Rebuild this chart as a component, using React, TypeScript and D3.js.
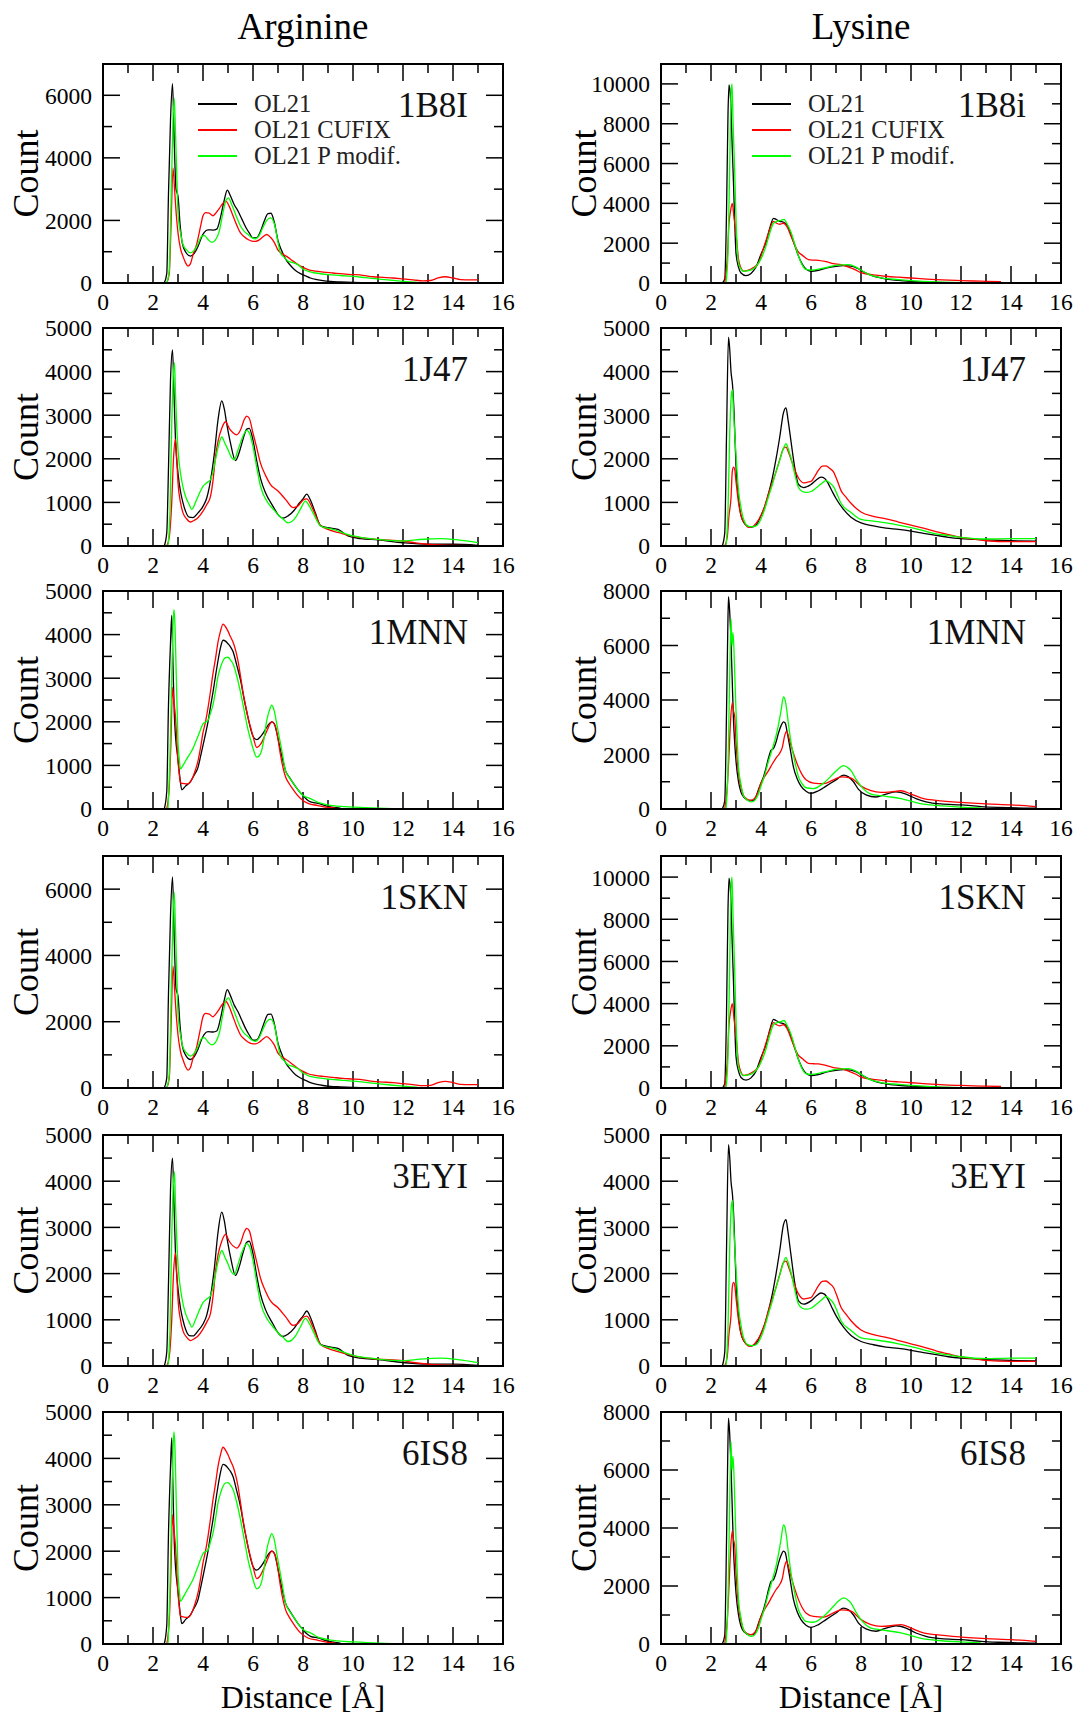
import React from 'react';
import * as d3 from 'd3';

type Pt = [number, number];

// ---- Arginine, 1B8I / 1SKN ----
const argA_ol21: Pt[] = [[2.45,0],[2.55,300],[2.62,2880],[2.7,5200],[2.78,6370],[2.85,4500],[2.92,3000],[3.0,2770],[3.08,1900],[3.17,1280],[3.3,1000],[3.5,860],[3.65,950],[3.8,1170],[3.95,1480],[4.05,1620],[4.2,1700],[4.4,1690],[4.55,1720],[4.7,2100],[4.85,2650],[4.97,2970],[5.1,2780],[5.25,2500],[5.4,2300],[5.55,2050],[5.7,1800],[5.85,1600],[6.0,1440],[6.15,1450],[6.3,1650],[6.45,1980],[6.6,2220],[6.72,2230],[6.85,1950],[7.0,1350],[7.15,1030],[7.3,770],[7.5,560],[7.7,400],[7.9,300],[8.1,230],[8.3,160],[8.55,110],[8.8,75],[9.1,50],[9.5,35],[10.0,20],[10.7,10],[11.4,0]];
const argA_cufix: Pt[] = [[2.55,0],[2.65,300],[2.72,1800],[2.8,3680],[2.87,2900],[2.93,2200],[3.0,1600],[3.1,1100],[3.2,850],[3.3,650],[3.4,540],[3.5,620],[3.6,900],[3.75,1250],[3.9,1800],[4.0,2150],[4.1,2250],[4.25,2230],[4.4,2150],[4.5,2220],[4.65,2380],[4.8,2550],[4.92,2610],[5.05,2450],[5.2,2150],[5.35,1850],[5.5,1600],[5.65,1480],[5.8,1390],[5.95,1340],[6.1,1330],[6.25,1380],[6.4,1480],[6.55,1550],[6.7,1460],[6.85,1300],[7.0,1050],[7.2,920],[7.4,820],[7.6,700],[7.8,590],[8.0,500],[8.2,430],[8.5,380],[8.8,350],[9.2,320],[9.6,290],[10.0,270],[10.4,245],[10.8,200],[11.2,180],[11.6,160],[12.0,130],[12.4,100],[12.8,70],[13.1,80],[13.4,160],[13.7,200],[14.0,160],[14.3,110],[14.7,100],[15.0,100]];
const argA_pmod: Pt[] = [[2.55,0],[2.65,400],[2.72,2500],[2.8,5200],[2.85,5900],[2.9,4800],[2.95,3500],[3.0,2240],[3.1,1600],[3.2,1230],[3.35,1050],[3.5,960],[3.65,1050],[3.8,1250],[3.95,1500],[4.05,1520],[4.2,1390],[4.35,1300],[4.5,1380],[4.65,1650],[4.8,2250],[4.92,2650],[5.02,2720],[5.15,2500],[5.3,2200],[5.5,1820],[5.65,1650],[5.8,1550],[5.95,1450],[6.1,1410],[6.25,1520],[6.4,1780],[6.55,2000],[6.7,2080],[6.85,1900],[7.0,1300],[7.1,960],[7.25,820],[7.4,700],[7.6,650],[7.8,580],[8.0,450],[8.25,360],[8.5,320],[9.0,270],[9.5,240],[10.0,210],[10.5,170],[11.0,130],[11.5,90],[12.0,55],[12.6,20]];

// ---- Arginine, 1J47 / 3EYI ----
const argB_ol21: Pt[] = [[2.45,0],[2.55,300],[2.62,1800],[2.7,3800],[2.78,4500],[2.84,3500],[2.9,2430],[3.0,1670],[3.1,1250],[3.2,990],[3.3,800],[3.45,660],[3.6,650],[3.8,760],[4.0,910],[4.15,1100],[4.3,1500],[4.45,2100],[4.6,2890],[4.75,3330],[4.85,3150],[4.95,2800],[5.1,2360],[5.3,1960],[5.45,2150],[5.6,2450],[5.75,2680],[5.85,2700],[6.0,2430],[6.15,1950],[6.3,1550],[6.5,1220],[6.8,910],[7.0,720],[7.2,640],[7.4,690],[7.65,820],[7.85,980],[8.0,1080],[8.15,1190],[8.3,1050],[8.5,750],[8.7,470],[9.0,420],[9.4,380],[9.8,230],[10.3,170],[11.0,140],[12.0,75],[13.0,40],[14.0,40],[15.0,15]];
const argB_cufix: Pt[] = [[2.55,0],[2.65,200],[2.75,1000],[2.82,2000],[2.9,2450],[2.95,2000],[3.0,1450],[3.1,1000],[3.2,760],[3.35,620],[3.5,550],[3.65,590],[3.8,650],[4.0,800],[4.15,950],[4.3,1140],[4.4,1500],[4.5,2050],[4.6,2400],[4.75,2700],[4.9,2850],[5.05,2700],[5.2,2600],[5.35,2550],[5.5,2660],[5.65,2900],[5.75,2980],[5.85,2930],[6.0,2590],[6.15,2250],[6.3,1900],[6.5,1620],[6.7,1410],[7.0,1260],[7.3,1070],[7.6,880],[7.8,920],[8.0,1050],[8.15,1080],[8.4,840],[8.7,470],[9.0,380],[9.4,310],[9.8,250],[10.3,190],[11.0,150],[12.0,115],[12.5,70],[13.0,40],[14.0,15],[15.0,10]];
const argB_pmod: Pt[] = [[2.6,0],[2.68,800],[2.75,2800],[2.82,4000],[2.86,4200],[2.9,3500],[2.95,2740],[3.0,2200],[3.1,1670],[3.2,1350],[3.3,1140],[3.45,950],[3.55,840],[3.7,1000],[3.85,1200],[4.0,1370],[4.15,1450],[4.3,1520],[4.4,1700],[4.5,1980],[4.62,2300],[4.75,2500],[4.88,2350],[5.0,2210],[5.12,2050],[5.25,1980],[5.4,2200],[5.55,2450],[5.75,2650],[5.85,2600],[6.0,2280],[6.15,1800],[6.3,1370],[6.6,990],[6.8,850],[7.0,720],[7.2,620],[7.4,530],[7.55,560],[7.7,650],[7.9,850],[8.1,1030],[8.25,920],[8.4,760],[8.7,460],[9.2,380],[10.0,230],[11.0,150],[12.0,115],[12.5,140],[13.0,160],[13.5,170],[14.2,140],[15.0,75]];

// ---- Arginine, 1MNN / 6IS8 ----
const argC_ol21: Pt[] = [[2.45,0],[2.55,400],[2.62,2400],[2.7,3800],[2.75,4440],[2.8,3300],[2.85,2200],[2.9,1670],[3.0,1135],[3.08,700],[3.15,440],[3.3,525],[3.5,630],[3.65,780],[3.8,955],[3.9,1200],[4.0,1460],[4.1,1720],[4.2,2000],[4.3,2350],[4.4,2680],[4.5,3050],[4.6,3400],[4.7,3700],[4.8,3870],[4.9,3850],[5.0,3790],[5.1,3720],[5.2,3610],[5.35,3300],[5.5,2960],[5.65,2500],[5.8,2100],[5.9,1850],[6.0,1670],[6.15,1590],[6.3,1660],[6.45,1780],[6.6,1920],[6.75,2000],[6.85,1960],[6.95,1750],[7.1,1350],[7.2,1100],[7.3,880],[7.45,730],[7.6,600],[7.8,440],[8.0,310],[8.15,220],[8.3,165],[8.6,130],[9.0,60],[9.5,20]];
const argC_cufix: Pt[] = [[2.55,0],[2.65,500],[2.72,1600],[2.78,2790],[2.83,2500],[2.9,2100],[2.95,1600],[3.0,1100],[3.05,800],[3.1,600],[3.25,580],[3.4,575],[3.6,740],[3.7,900],[3.8,1100],[3.9,1400],[4.0,1750],[4.1,2000],[4.2,2320],[4.3,2700],[4.4,3110],[4.5,3450],[4.6,3830],[4.7,4080],[4.8,4240],[4.9,4180],[5.0,4080],[5.1,3950],[5.2,3830],[5.3,3650],[5.4,3400],[5.5,3050],[5.6,2680],[5.7,2380],[5.8,2100],[5.9,1880],[6.0,1670],[6.15,1410],[6.3,1480],[6.45,1650],[6.6,1850],[6.75,2000],[6.9,1890],[7.0,1600],[7.1,1240],[7.2,950],[7.3,740],[7.45,580],[7.6,450],[7.9,240],[8.2,130],[8.6,80],[9.0,35],[9.3,20]];
const argC_pmod: Pt[] = [[2.6,0],[2.68,1200],[2.75,3000],[2.8,4200],[2.84,4570],[2.88,4200],[2.92,3300],[2.96,2400],[3.0,1530],[3.05,1150],[3.1,920],[3.2,1000],[3.3,1100],[3.45,1240],[3.6,1390],[3.7,1530],[3.8,1670],[3.9,1820],[4.0,1950],[4.2,2030],[4.3,2200],[4.4,2390],[4.5,2700],[4.6,3040],[4.7,3250],[4.8,3400],[4.9,3470],[5.0,3480],[5.1,3420],[5.2,3330],[5.35,3050],[5.5,2680],[5.65,2250],[5.8,1820],[5.9,1600],[6.0,1390],[6.15,1190],[6.25,1220],[6.35,1350],[6.45,1650],[6.55,2030],[6.65,2250],[6.75,2380],[6.85,2250],[6.95,1950],[7.05,1650],[7.15,1350],[7.3,880],[7.45,720],[7.6,600],[7.8,440],[8.0,310],[8.3,240],[8.6,150],[9.0,95],[9.5,60],[10.0,45],[11.0,20],[11.6,10]];

// ---- Lysine, 1B8i / 1SKN ----
const lysA_ol21: Pt[] = [[2.45,0],[2.55,200],[2.62,3500],[2.68,8500],[2.72,9950],[2.78,9300],[2.85,6800],[2.9,5000],[2.95,3000],[3.0,1500],[3.1,800],[3.2,500],[3.4,370],[3.6,480],[3.8,800],[4.0,1450],[4.2,2050],[4.35,2750],[4.5,3250],[4.6,3200],[4.75,3100],[4.9,3050],[5.05,2900],[5.2,2450],[5.35,1900],[5.5,1350],[5.65,950],[5.8,700],[6.0,590],[6.3,640],[6.6,750],[7.0,840],[7.3,870],[7.6,850],[7.85,740],[8.1,560],[8.5,340],[9.0,200],[9.5,130],[10.0,85],[11.0,35],[12.0,10]];
const lysA_cufix: Pt[] = [[2.55,0],[2.65,1200],[2.72,3000],[2.78,3600],[2.85,4000],[2.92,3300],[3.0,2500],[3.1,1200],[3.2,750],[3.3,600],[3.5,650],[3.7,780],[3.9,1000],[4.1,1750],[4.3,2500],[4.5,3100],[4.62,3000],[4.75,2950],[4.9,3000],[5.05,2800],[5.2,2350],[5.35,1900],[5.5,1550],[5.65,1400],[5.9,1170],[6.1,1150],[6.3,1140],[6.6,1070],[6.9,970],[7.2,920],[7.5,800],[7.8,650],[8.0,520],[8.3,440],[8.6,400],[9.0,340],[9.5,290],[10.0,250],[10.5,210],[11.0,170],[11.5,140],[12.0,120],[12.5,100],[13.0,85],[13.6,70]];
const lysA_pmod: Pt[] = [[2.6,0],[2.68,1500],[2.75,6000],[2.8,9500],[2.84,10000],[2.88,8200],[2.95,5500],[3.02,2500],[3.1,1000],[3.2,700],[3.3,590],[3.5,620],[3.7,720],[3.9,1000],[4.05,1350],[4.2,1850],[4.35,2500],[4.5,3000],[4.65,3100],[4.8,3150],[4.92,3200],[5.05,2950],[5.2,2550],[5.35,1950],[5.5,1350],[5.65,900],[5.8,680],[6.0,640],[6.5,750],[7.0,880],[7.5,920],[7.8,800],[8.0,650],[8.3,430],[8.8,260],[9.5,170],[10.0,120],[11.0,50],[12.0,20]];

// ---- Lysine, 1J47 / 3EYI ----
const lysB_ol21: Pt[] = [[2.45,0],[2.55,300],[2.62,2500],[2.7,4790],[2.75,4500],[2.8,4000],[2.86,3700],[2.92,3100],[3.0,1840],[3.1,1100],[3.2,700],[3.4,480],[3.6,430],[3.8,480],[4.0,700],[4.15,900],[4.3,1200],[4.45,1550],[4.6,1990],[4.75,2500],[4.9,3060],[5.0,3170],[5.08,2900],[5.2,2400],[5.35,1800],[5.5,1410],[5.7,1340],[6.0,1410],[6.2,1510],[6.4,1580],[6.55,1550],[6.7,1420],[6.85,1250],[7.0,1090],[7.3,840],[7.6,660],[8.0,530],[8.5,460],[9.0,410],[9.5,380],[10.0,340],[10.5,290],[11.0,245],[11.5,200],[12.0,170],[13.0,140],[14.0,120],[15.0,110]];
const lysB_cufix: Pt[] = [[2.55,0],[2.65,200],[2.72,700],[2.8,1100],[2.85,1700],[2.9,1810],[2.95,1750],[3.0,1480],[3.1,1000],[3.2,700],[3.35,520],[3.5,430],[3.65,440],[3.8,520],[4.0,700],[4.15,920],[4.3,1200],[4.45,1450],[4.6,1700],[4.75,1980],[4.9,2240],[5.0,2270],[5.1,2150],[5.2,1990],[5.35,1750],[5.5,1560],[5.7,1450],[5.9,1470],[6.0,1480],[6.15,1600],[6.3,1740],[6.45,1830],[6.6,1840],[6.75,1780],[6.9,1700],[7.05,1500],[7.2,1270],[7.4,1120],[7.6,980],[8.0,780],[8.5,680],[9.0,620],[9.5,550],[10.0,480],[10.5,410],[11.0,330],[11.5,260],[12.0,195],[12.5,160],[13.0,120],[14.0,100],[15.0,100]];
const lysB_pmod: Pt[] = [[2.6,0],[2.68,800],[2.75,2600],[2.82,3500],[2.86,3580],[2.9,3100],[2.95,2560],[3.0,2100],[3.1,1270],[3.2,880],[3.3,620],[3.5,450],[3.65,440],[3.8,460],[4.0,620],[4.15,850],[4.3,1130],[4.45,1400],[4.6,1700],[4.75,1970],[4.9,2240],[5.0,2350],[5.08,2250],[5.2,2020],[5.35,1650],[5.5,1340],[5.65,1250],[5.8,1230],[6.0,1250],[6.2,1330],[6.4,1420],[6.6,1500],[6.75,1450],[6.9,1360],[7.05,1180],[7.2,980],[7.6,770],[8.0,610],[8.5,570],[9.0,530],[9.5,480],[10.0,420],[10.5,350],[11.0,280],[11.5,240],[12.0,200],[13.0,160],[14.0,170],[15.0,170]];

// ---- Lysine, 1MNN / 6IS8 ----
const lysC_ol21: Pt[] = [[2.45,0],[2.55,300],[2.62,3500],[2.67,6500],[2.7,7790],[2.75,7200],[2.8,6130],[2.85,4700],[2.9,3250],[2.95,2400],[3.0,1760],[3.1,1000],[3.2,610],[3.35,400],[3.5,320],[3.7,320],[3.8,450],[3.9,720],[4.0,950],[4.1,1180],[4.2,1500],[4.3,1870],[4.4,2150],[4.5,2220],[4.6,2450],[4.7,2790],[4.8,3050],[4.9,3200],[4.97,3150],[5.05,2800],[5.15,2300],[5.3,1530],[5.45,1100],[5.6,840],[5.8,650],[6.0,575],[6.3,670],[6.6,840],[7.0,1070],[7.3,1240],[7.5,1180],[7.7,1000],[7.9,720],[8.2,520],[8.6,440],[9.0,550],[9.4,630],[9.8,550],[10.2,380],[10.6,265],[11.2,185],[12.0,150],[12.8,90],[13.5,60],[14.5,35],[15.0,30]];
const lysC_cufix: Pt[] = [[2.55,0],[2.65,800],[2.72,2000],[2.78,3200],[2.85,3890],[2.9,3600],[2.95,3370],[3.0,2450],[3.05,1800],[3.1,1300],[3.2,800],[3.3,490],[3.45,360],[3.6,320],[3.75,400],[3.85,550],[4.0,950],[4.15,1200],[4.3,1410],[4.45,1650],[4.6,1870],[4.75,2050],[4.85,2250],[4.95,2700],[5.02,2850],[5.12,2600],[5.2,2330],[5.35,1900],[5.5,1530],[5.65,1250],[5.8,1070],[6.1,950],[6.5,930],[6.9,1070],[7.2,1180],[7.6,1130],[8.0,840],[8.4,670],[8.8,610],[9.2,630],[9.6,670],[10.0,550],[10.5,380],[11.0,320],[12.0,240],[13.0,185],[14.0,150],[15.0,90]];
const lysC_pmod: Pt[] = [[2.6,0],[2.68,1500],[2.75,5000],[2.8,6990],[2.84,6000],[2.88,6470],[2.92,5800],[2.96,4700],[3.0,3600],[3.05,2500],[3.1,1530],[3.2,900],[3.3,490],[3.45,330],[3.6,265],[3.7,280],[3.8,380],[3.9,560],[4.0,840],[4.15,1250],[4.3,1760],[4.45,2200],[4.6,2680],[4.7,3100],[4.8,3600],[4.9,4110],[4.95,4050],[5.0,3830],[5.1,3100],[5.2,2450],[5.35,1750],[5.5,1180],[5.65,920],[5.8,780],[6.1,750],[6.5,950],[6.9,1300],[7.1,1480],[7.3,1590],[7.5,1500],[7.6,1410],[7.8,1100],[8.0,840],[8.4,550],[8.8,490],[9.2,440],[9.6,380],[10.0,290],[10.5,175],[11.0,130],[12.0,70],[12.8,40]];

const columnTitles = ['Arginine', 'Lysine'];
const labelsArg = ['1B8I', '1J47', '1MNN', '1SKN', '3EYI', '6IS8'];
const labelsLys = ['1B8i', '1J47', '1MNN', '1SKN', '3EYI', '6IS8'];
const yMaxArg = [7000, 5000, 5000, 7000, 5000, 5000];
const yMaxLys = [11000, 5000, 8000, 11000, 5000, 8000];
const yStepArg = [2000, 1000, 1000, 2000, 1000, 1000];
const yStepLys = [2000, 1000, 2000, 2000, 1000, 2000];
const seriesNames = ['OL21', 'OL21 CUFIX', 'OL21 P modif.'];
const seriesColors = ['#000000', '#ff0000', '#00ff00'];
const xAxisLabel = 'Distance [\u00c5]';

const argA = [argA_ol21, argA_cufix, argA_pmod];
const argB = [argB_ol21, argB_cufix, argB_pmod];
const argC = [argC_ol21, argC_cufix, argC_pmod];
const lysA = [lysA_ol21, lysA_cufix, lysA_pmod];
const lysB = [lysB_ol21, lysB_cufix, lysB_pmod];
const lysC = [lysC_ol21, lysC_cufix, lysC_pmod];
const argRows = [argA, argB, argC, argA, argB, argC];
const lysRows = [lysA, lysB, lysC, lysA, lysB, lysC];

// layout (px)
const W = 1077;
const H = 1717;
const COL_LEFT = [103, 661];
const PANEL_W = 400;
const ROW_TOP = [64, 328, 591, 856, 1135, 1412];
const ROW_BOTTOM = [283, 546, 809, 1088, 1366, 1644];
const FONT = "'Liberation Serif', 'Times New Roman', serif";

const Panel = ({ left, top, bottom, yMax, yStep, rows, label, legendX, countX, isBottom }) => {
  const x = d3.scaleLinear().domain([0, 16]).range([left, left + PANEL_W]);
  const y = d3.scaleLinear().domain([0, yMax]).range([bottom, top]);
  const line = d3.line<Pt>().x(d => x(d[0])).y(d => y(d[1])).curve(d3.curveMonotoneX);

  const xTicks = d3.range(0, 17, 1);
  const yTicks = d3.range(0, yMax + 1, yStep / 2);
  const big = 17;
  const small = 9;

  return (
    <g>
      {/* ticks, inward on all four sides */}
      {xTicks.map(v => {
        const len = v % 2 === 0 ? big : small;
        return (
          <g key={`xt${v}`}>
            <line x1={x(v)} x2={x(v)} y1={bottom} y2={bottom - len} stroke="#000" strokeWidth={1.5} />
            <line x1={x(v)} x2={x(v)} y1={top} y2={top + len} stroke="#000" strokeWidth={1.5} />
            {v % 2 === 0 && (
              <text x={x(v)} y={bottom + 27} textAnchor="middle" fontSize={23.5} fontFamily={FONT} fill="#000">
                {v}
              </text>
            )}
          </g>
        );
      })}
      {yTicks.map(v => {
        const major = v % yStep === 0;
        const len = major ? big : small;
        return (
          <g key={`yt${v}`}>
            <line x1={left} x2={left + len} y1={y(v)} y2={y(v)} stroke="#000" strokeWidth={1.5} />
            <line x1={left + PANEL_W} x2={left + PANEL_W - len} y1={y(v)} y2={y(v)} stroke="#000" strokeWidth={1.5} />
            {major && (
              <text x={left - 11} y={y(v)} dy="0.36em" textAnchor="end" fontSize={23.5} fontFamily={FONT} fill="#000">
                {v}
              </text>
            )}
          </g>
        );
      })}

      {/* data */}
      {rows.map((pts, i) => (
        <path key={`s${i}`} d={line(pts)} fill="none" stroke={seriesColors[i]} strokeWidth={1.3} />
      ))}

      {/* frame */}
      <rect x={left} y={top} width={PANEL_W} height={bottom - top} fill="none" stroke="#000" strokeWidth={2} />

      <text x={left + PANEL_W - 35} y={top + 53} textAnchor="end" fontSize={35} fontFamily={FONT} fill="#111">
        {label}
      </text>

      <text transform={`translate(${countX},${(top + bottom) / 2}) rotate(-90)`} textAnchor="middle" fontSize={36} fontFamily={FONT} fill="#000">
        Count
      </text>

      {legendX !== null && seriesNames.map((name, i) => (
        <g key={`lg${i}`}>
          <line x1={legendX} x2={legendX + 39} y1={top + 40 + i * 26} y2={top + 40 + i * 26} stroke={seriesColors[i]} strokeWidth={2.2} />
          <text x={legendX + 56} y={top + 48 + i * 26} fontSize={24.5} fontFamily={FONT} fill="#222">
            {name}
          </text>
        </g>
      ))}

      {isBottom && (
        <text x={left + PANEL_W / 2} y={H - 9} textAnchor="middle" fontSize={32} fontFamily={FONT} fill="#000">
          {xAxisLabel}
        </text>
      )}
    </g>
  );
};

export default function App() {
  const columns = [
    { labels: labelsArg, yMax: yMaxArg, yStep: yStepArg, data: argRows, legendX: 198, countX: 38 },
    { labels: labelsLys, yMax: yMaxLys, yStep: yStepLys, data: lysRows, legendX: 752, countX: 596 },
  ];
  return (
    <div style={{ position: 'absolute', left: 0, top: 0, width: W, height: H, background: '#fff' }}>
      <svg width={W} height={H} style={{ display: 'block' }}>
        <rect width={W} height={H} fill="#fff" />
        {columns.map((col, c) => (
          <g key={`c${c}`}>
            <text x={COL_LEFT[c] + PANEL_W / 2} y={39} textAnchor="middle" fontSize={37} fontFamily={FONT} fill="#000">
              {columnTitles[c]}
            </text>
            {ROW_TOP.map((t, r) => (
              <Panel
                key={`p${c}-${r}`}
                left={COL_LEFT[c]}
                top={t}
                bottom={ROW_BOTTOM[r]}
                yMax={col.yMax[r]}
                yStep={col.yStep[r]}
                rows={col.data[r]}
                label={col.labels[r]}
                legendX={r === 0 ? col.legendX : null}
                countX={col.countX}
                isBottom={r === ROW_TOP.length - 1}
              />
            ))}
          </g>
        ))}
      </svg>
    </div>
  );
}
